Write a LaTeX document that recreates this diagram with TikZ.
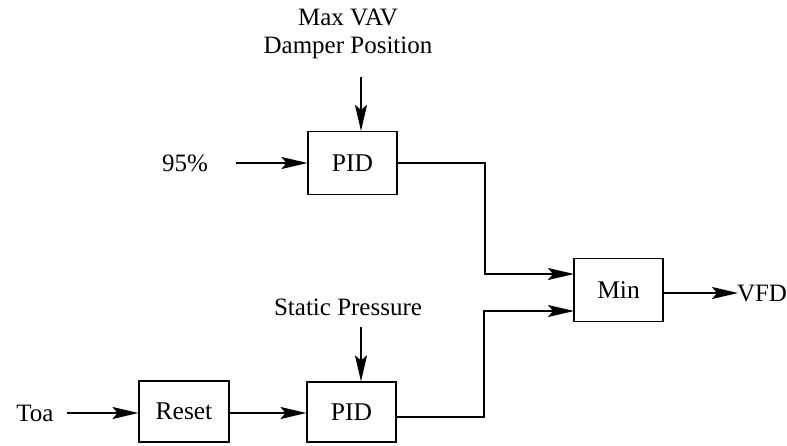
\documentclass[tikz,border=0pt]{standalone}
\usepackage{fontspec}
\setmainfont{Liberation Serif}
\usetikzlibrary{arrows.meta}
\begin{document}
\begin{tikzpicture}[x=1pt,y=-1pt,
  blk/.style={draw,line width=1.1pt,minimum width=89pt,minimum height=63pt,inner sep=0pt,font=\fontsize{25.5}{29}\selectfont},
  lbl/.style={inner sep=0pt,font=\fontsize{25}{28}\selectfont},
  sig/.style={line width=1.9pt,-{Stealth[length=26pt,width=12pt,inset=5pt]}},
  outl/.style={line width=2.6pt}]
\useasboundingbox (0,0) rectangle (787,445);
\node[blk] (pid1) at (352.5,163) {PID};
\node[blk,minimum height=60pt] (pid2) at (351.5,412) {PID};
\node[blk,minimum width=90pt,minimum height=61pt] (reset) at (184,411.5) {Reset};
\node[blk] (min) at (618.5,290) {Min};
\node[lbl,align=center] (maxvav) at (348,34) {Max VAV\\Damper Position};
\node[lbl] (pct) at (185,163) {95\%};
\node[lbl] (toa) at (35,413) {Toa};
\node[lbl] (vfd) at (762,293) {VFD};
\node[lbl] (sp) at (348,307) {Static Pressure};
\coordinate (a1) at (361,77);
\coordinate (a2) at (361,327);
\coordinate (p1) at (236,163);
\coordinate (t1) at (67,413);
\coordinate (j1) at (485,163);
\coordinate (j2) at (484,417);
\coordinate (m1) at (574,274);
\coordinate (m2) at (574,311);
\coordinate (v1) at (738,293);
\draw[sig] (a1) -- (a1 |- pid1.north);
\draw[sig] (a2) -- (a2 |- pid2.north);
\draw[sig] (p1) -- (pid1.west);
\draw[sig] (t1) -- (reset.west |- t1);
\draw[sig] (reset.east |- t1) -- (pid2.west |- t1);
\draw[outl] (pid1.east) -- (j1) -- (j1 |- m1) -- ([xshift=-30pt]m1);
\draw[sig] ([xshift=-32pt]m1) -- (m1);
\draw[outl] (pid2.east |- j2) -- (j2) -- (j2 |- m2) -- ([xshift=-30pt]m2);
\draw[sig] ([xshift=-32pt]m2) -- (m2);
\draw[sig] (min.east |- v1) -- (v1);
\end{tikzpicture}
\end{document}
